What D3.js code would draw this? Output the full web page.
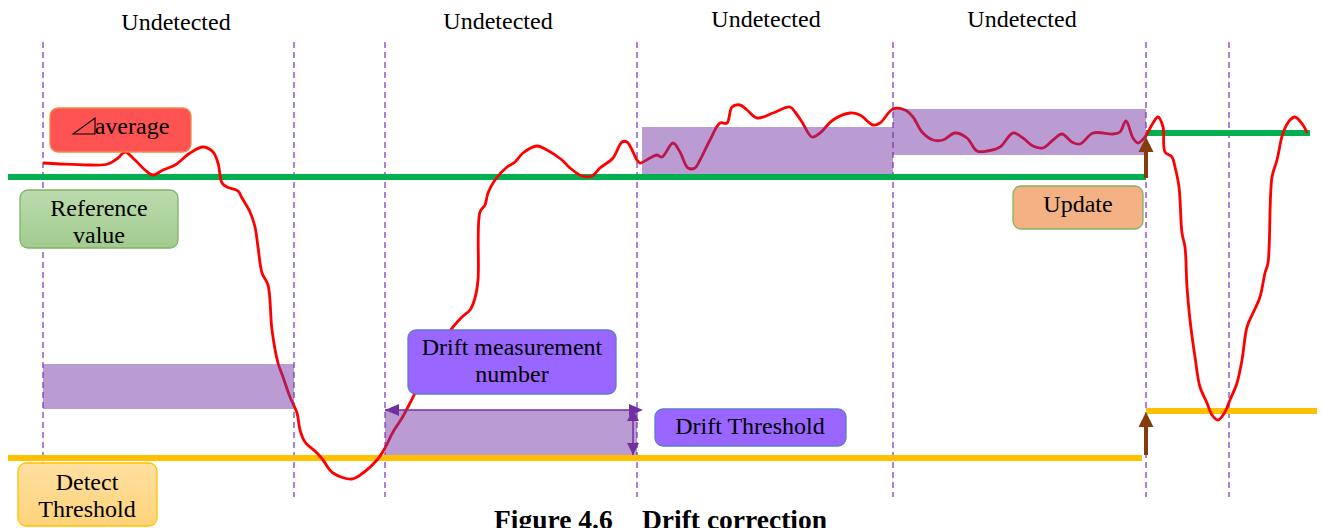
<!DOCTYPE html>
<html><head><meta charset="utf-8">
<script src="https://cdn.jsdelivr.net/npm/d3@7"></script>
<style>
body{margin:0;background:#fff}
svg{display:block}
text{font-family:"Liberation Serif","Times New Roman",serif;fill:#000}
</style>
</head><body>
<svg id="c" width="1322" height="528"></svg>
<script>
// ---- data (time in sample units, signal in level units) ----
const phaseBounds = [43, 294, 385, 637, 893, 1146, 1229];
const phaseLabels = ["Undetected", "Undetected", "Undetected", "Undetected"];

const curveT = [43,60,90,108,118,125,135,145,153,163,175,190,203,213,218,222,227,238,242,250,255,258,262,268,272,278,283,290,297,300,305,317,323,333,352,363,377,385,393,402,410,420,433,445,453,462,470,475,478,480,485,488,495,507,515,523,537,547,562,570,582,592,600,613,622,627,637,640,650,657,662,673,680,688,695,700,710,720,727,732,740,747,757,773,790,795,802,812,820,833,850,860,873,880,893,905,913,922,933,943,955,967,977,987,1000,1013,1023,1033,1043,1053,1062,1072,1080,1093,1113,1120,1126,1133,1138,1145,1153,1158,1163,1165,1172,1175,1179,1182,1185,1187,1190,1195,1200,1207,1212,1218,1225,1230,1237,1242,1247,1253,1260,1265,1268,1272,1277,1283,1290,1295,1303,1307];
const curveV = [365,364,363,364,370,376,368,358,353,358,363,375,381,376,365,345,341,337,330,316,301,281,255,243,198,165,151,131,115,98,86,75,68,55,49,55,68,80,96,110,125,145,175,191,201,211,218,230,248,316,323,335,348,361,366,375,382,378,368,360,352,352,360,370,386,386,368,365,370,373,371,385,376,360,360,368,388,405,405,421,423,418,410,415,421,416,406,391,395,408,415,413,403,405,419,418,411,396,388,388,395,390,377,377,381,395,390,382,380,388,394,386,384,395,394,396,407,390,385,391,405,411,401,376,371,361,341,295,281,241,208,171,141,125,113,108,116,128,145,168,201,215,231,255,265,351,368,395,408,411,403,395];

// reference value and detect threshold, before / after update
const refStart = [8, 1146], refEnd = [1146, 1310], refLevel = [351, 395];
const detStart = [8, 1146], detEnd = [1142, 1317], detLevel = [70, 117];

// drift windows (purple bands)
const bandStart = [43, 385, 642, 893];
const bandEnd   = [294, 637, 893, 1146];
const bandLow   = [119, 73, 354, 373];
const bandHigh  = [164, 118, 401, 419];

// update arrows at the update instant
const updateT = 1146;
const updateFrom = [350, 73];
const updateTo   = [391, 116];

const caption = ["Figure 4.6", "Drift correction"];

// ---- drawing ----
const W = 1322, H = 528;
const svg = d3.select("#c");
const x = d3.scaleLinear().domain([0, 1322]).range([0, W]);
const y = d3.scaleLinear().domain([0, 528]).range([H, 0]);

const defs = svg.append("defs");
function grad(id, c1, c2){
  const g = defs.append("linearGradient").attr("id", id).attr("x1",0).attr("y1",0).attr("x2",0).attr("y2",1);
  g.append("stop").attr("offset","0%").attr("stop-color",c1);
  g.append("stop").attr("offset","100%").attr("stop-color",c2);
}
grad("gGreen", "#bbdcae", "#a2cb8e");
grad("gYellow", "#ffe0a0", "#ffd37a");

// phase boundaries
svg.append("g").selectAll("line").data(phaseBounds).join("line")
  .attr("x1", d => x(d)).attr("x2", d => x(d))
  .attr("y1", 42).attr("y2", 497)
  .attr("stroke", "#8e5ccc").attr("stroke-width", 1.5)
  .attr("stroke-dasharray", "6,4");

// reference lines
svg.append("g").selectAll("line").data(refLevel).join("line")
  .attr("x1", (d,i) => x(refStart[i])).attr("x2", (d,i) => x(refEnd[i]))
  .attr("y1", d => y(d)).attr("y2", d => y(d))
  .attr("stroke", "#00b050").attr("stroke-width", 6);

// detect threshold lines
svg.append("g").selectAll("line").data(detLevel).join("line")
  .attr("x1", (d,i) => x(detStart[i])).attr("x2", (d,i) => x(detEnd[i]))
  .attr("y1", d => y(d)).attr("y2", d => y(d))
  .attr("stroke", "#ffc000").attr("stroke-width", 6);

// signal curve
const pts = curveT.map((t,i) => [t, curveV[i]]);
svg.append("path").datum(pts)
  .attr("d", d3.line().x(d => x(d[0])).y(d => y(d[1])).curve(d3.curveCatmullRom.alpha(0.5)))
  .attr("fill", "none").attr("stroke", "#ff0000").attr("stroke-width", 2.8)
  .attr("stroke-linejoin", "round");

const purple = "#7030a0";
function arrowHead(g, tipX, tipY, dir, len, wid, color){
  let p;
  if (dir === 'l') p = [[tipX,tipY],[tipX+len,tipY-wid/2],[tipX+len,tipY+wid/2]];
  if (dir === 'r') p = [[tipX,tipY],[tipX-len,tipY-wid/2],[tipX-len,tipY+wid/2]];
  if (dir === 'u') p = [[tipX,tipY],[tipX-wid/2,tipY+len],[tipX+wid/2,tipY+len]];
  if (dir === 'd') p = [[tipX,tipY],[tipX-wid/2,tipY-len],[tipX+wid/2,tipY-len]];
  g.append("polygon").attr("points", p.map(q => q.join(",")).join(" ")).attr("fill", color);
}

// bands
svg.append("g").selectAll("rect").data(bandStart).join("rect")
  .attr("x", (d,i) => x(bandStart[i]))
  .attr("width", (d,i) => x(bandEnd[i]) - x(bandStart[i]))
  .attr("y", (d,i) => y(bandHigh[i]))
  .attr("height", (d,i) => y(bandLow[i]) - y(bandHigh[i]))
  .attr("fill", purple).attr("fill-opacity", 0.48);

// drift arrows
const ag = svg.append("g");
const hY = y(bandHigh[1]);
ag.append("line").attr("x1", x(bandStart[1])).attr("x2", x(bandEnd[1]))
  .attr("y1", hY).attr("y2", hY).attr("stroke", purple).attr("stroke-width", 1.5);
arrowHead(ag, x(bandStart[1]), hY, 'l', 14, 12, purple);
arrowHead(ag, x(bandEnd[1]) + 6, hY, 'r', 14, 12, purple);
const vX = x(bandEnd[1]) - 4;
ag.append("line").attr("x1", vX).attr("x2", vX)
  .attr("y1", hY).attr("y2", y(bandLow[1])).attr("stroke", purple).attr("stroke-width", 1.5);
arrowHead(ag, vX, hY - 1, 'u', 12, 12, purple);
arrowHead(ag, vX, y(bandLow[1]), 'd', 12, 12, purple);

// update arrows
const brown = "#843c0c";
updateFrom.forEach((f,i) => {
  const tipY = y(updateTo[i]);
  ag.append("line").attr("x1", x(updateT)).attr("x2", x(updateT))
    .attr("y1", y(f)).attr("y2", tipY + 12).attr("stroke", brown).attr("stroke-width", 4);
  arrowHead(ag, x(updateT), tipY, 'u', 15, 15, brown);
});

// label boxes
const boxes = [
  {x0:50, y0:108, x1:191, y1:152, fill:"#ff5353", stroke:"#f08a4b", lines:["average"], tri:true, cx:132, base:[134]},
  {x0:20, y0:190, x1:178, y1:248, fill:"url(#gGreen)", stroke:"#82b366", lines:["Reference","value"], cx:99, base:[216,243]},
  {x0:1013, y0:186, x1:1143, y1:229, fill:"#f4b183", stroke:"#82b366", lines:["Update"], cx:1078, base:[212]},
  {x0:18, y0:463, x1:157, y1:526, fill:"url(#gYellow)", stroke:"#ffc000", lines:["Detect","Threshold"], cx:87, base:[490,517]},
  {x0:408, y0:330, x1:616, y1:394, fill:"#9966ff", stroke:"#5b7bd0", lines:["Drift measurement","number"], cx:512, base:[355,382]},
  {x0:655, y0:409, x1:846, y1:446, fill:"#9966ff", stroke:"#5b7bd0", lines:["Drift Threshold"], cx:750, base:[434]}
];
const bg = svg.append("g");
boxes.forEach(b => {
  bg.append("rect").attr("x", b.x0).attr("y", b.y0)
    .attr("width", b.x1 - b.x0).attr("height", b.y1 - b.y0)
    .attr("rx", 8).attr("fill", b.fill).attr("stroke", b.stroke).attr("stroke-width", 1.3);
  if (b.tri) {
    // hollow right-triangle symbol "⊿" drawn before the word
    bg.append("polygon").attr("points", "73,134 95,134 95,118")
      .attr("fill", "none").attr("stroke", "#000").attr("stroke-width", 1.1);
  }
  b.lines.forEach((l,i) => {
    bg.append("text").attr("x", b.cx).attr("y", b.base[i])
      .attr("text-anchor", "middle").attr("font-size", 24).text(l);
  });
});

// phase labels
const labX = [176, 498, 766, 1022];
const labY = [30, 29, 27, 27];
svg.append("g").selectAll("text").data(phaseLabels).join("text")
  .attr("x", (d,i) => labX[i]).attr("y", (d,i) => labY[i])
  .attr("text-anchor", "middle").attr("font-size", 24).text(d => d);

// caption
svg.append("text").attr("x", 494).attr("y", 529).attr("font-size", 27.5)
  .attr("font-weight", "bold").text(caption[0]);
svg.append("text").attr("x", 642).attr("y", 529).attr("font-size", 27.5)
  .attr("font-weight", "bold").text(caption[1]);
</script>
</body></html>
